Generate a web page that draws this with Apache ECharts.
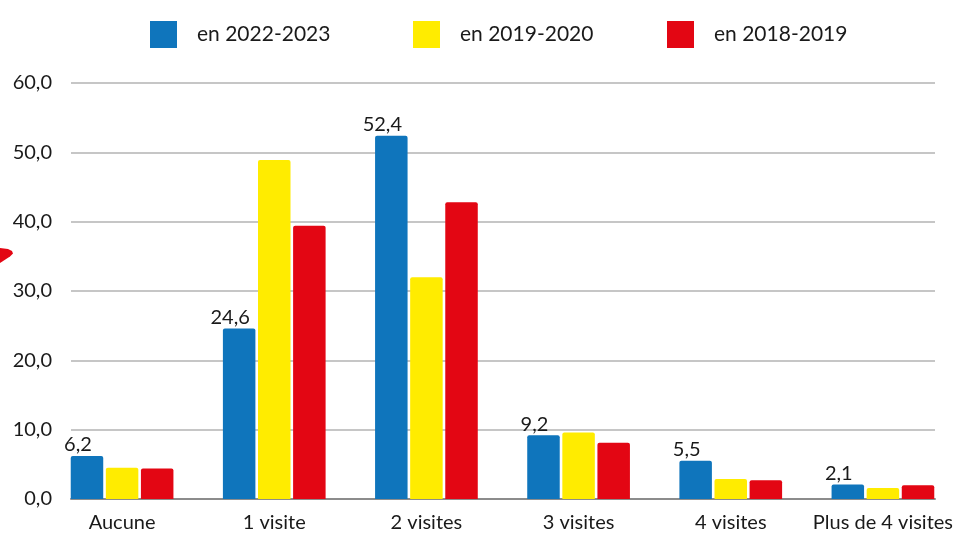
<!DOCTYPE html>
<html>
<head>
<meta charset="utf-8">
<script src="https://cdn.jsdelivr.net/npm/echarts@6/dist/echarts.min.js"></script>
<style>
  html, body { margin: 0; padding: 0; background: #ffffff; }
  #chart { width: 962px; height: 533px; }
</style>
</head>
<body>
<div id="chart"></div>
<script>
// Number of visits per category, three survey periods
const categories = ['Aucune', '1 visite', '2 visites', '3 visites', '4 visites', 'Plus de 4 visites'];
const seriesNames = ['en 2022-2023', 'en 2019-2020', 'en 2018-2019'];
const values2022 = [6.2, 24.6, 52.4, 9.2, 5.5, 2.1];
const values2019 = [4.5, 48.9, 32.0, 9.6, 2.9, 1.6];
const values2018 = [4.4, 39.4, 42.8, 8.1, 2.7, 2.0];
const yTicks = [0, 10, 20, 30, 40, 50, 60];

const colors = ['#0F75BC', '#FFEC00', '#E30613'];
const font = 'Lato, "Open Sans", sans-serif';
const textColor = '#1a1a1a';

const fmt = v => v.toFixed(1).replace('.', ',');

const chart = echarts.init(document.getElementById('chart'), null, { renderer: 'canvas' });

const TOP = 83, BOTTOM = 533 - 499;

function barSeries(name, data, color, showLabel) {
  return {
    name: name,
    type: 'bar',
    xAxisIndex: 0,
    yAxisIndex: 0,
    data: data,
    barWidth: 32.5,
    barGap: '8%',
    itemStyle: { color: color, borderRadius: [2, 2, 0, 0] },
    label: {
      show: showLabel,
      position: 'top',
      distance: 1,
      offset: [-9, 0],
      color: textColor,
      fontFamily: font,
      fontSize: 20,
      formatter: p => fmt(p.value)
    }
  };
}

// one legend block per series so each swatch sits at its own place
const legendLefts = [145, 408, 662];
const legends = seriesNames.map((name, i) => ({
  left: legendLefts[i],
  top: 16,
  itemWidth: 27,
  itemHeight: 27,
  icon: 'rect',
  data: [name],
  textStyle: {
    fontFamily: font,
    fontSize: 21,
    color: textColor,
    padding: [0, 0, 0, 15]
  }
}));

chart.setOption({
  animation: false,
  backgroundColor: '#ffffff',
  legend: legends,
  grid: [
    // bar area
    { left: 46, right: 3, top: TOP, bottom: BOTTOM },
    // gridline / value-axis area
    { left: 71, right: 27, top: TOP, bottom: BOTTOM }
  ],
  xAxis: [
    {
      type: 'category',
      gridIndex: 0,
      data: categories,
      axisLine: { show: false },
      axisTick: { show: false },
      axisLabel: {
        margin: 14,
        color: textColor,
        fontFamily: font,
        fontSize: 20,
        interval: 0
      }
    },
    {
      type: 'value',
      gridIndex: 1,
      min: 0, max: 1,
      axisLine: { show: true, lineStyle: { color: '#8c8c8c', width: 2 } },
      axisTick: { show: false },
      axisLabel: { show: false },
      splitLine: { show: false }
    }
  ],
  yAxis: [
    {
      type: 'value',
      gridIndex: 0,
      min: yTicks[0],
      max: yTicks[yTicks.length - 1],
      interval: 10,
      axisLine: { show: false },
      axisTick: { show: false },
      axisLabel: { show: false },
      splitLine: { show: false }
    },
    {
      type: 'value',
      gridIndex: 1,
      min: yTicks[0],
      max: yTicks[yTicks.length - 1],
      interval: 10,
      axisLine: { show: false },
      axisTick: { show: false },
      axisLabel: {
        margin: 19,
        color: textColor,
        fontFamily: font,
        fontSize: 20,
        formatter: v => fmt(v)
      },
      splitLine: { show: true, lineStyle: { color: '#c6c6c6', width: 2 } }
    }
  ],
  series: [
    barSeries(seriesNames[0], values2022, colors[0], true),
    barSeries(seriesNames[1], values2019, colors[1], false),
    barSeries(seriesNames[2], values2018, colors[2], false)
  ],
  graphic: [
    {
      // small red pointer at the left edge
      type: 'polygon',
      shape: { points: [[0, 248], [8, 249], [12, 251], [13, 253.5], [10, 256.5], [0, 263]] },
      style: { fill: '#E30613' }
    }
  ]
});
</script>
</body>
</html>
